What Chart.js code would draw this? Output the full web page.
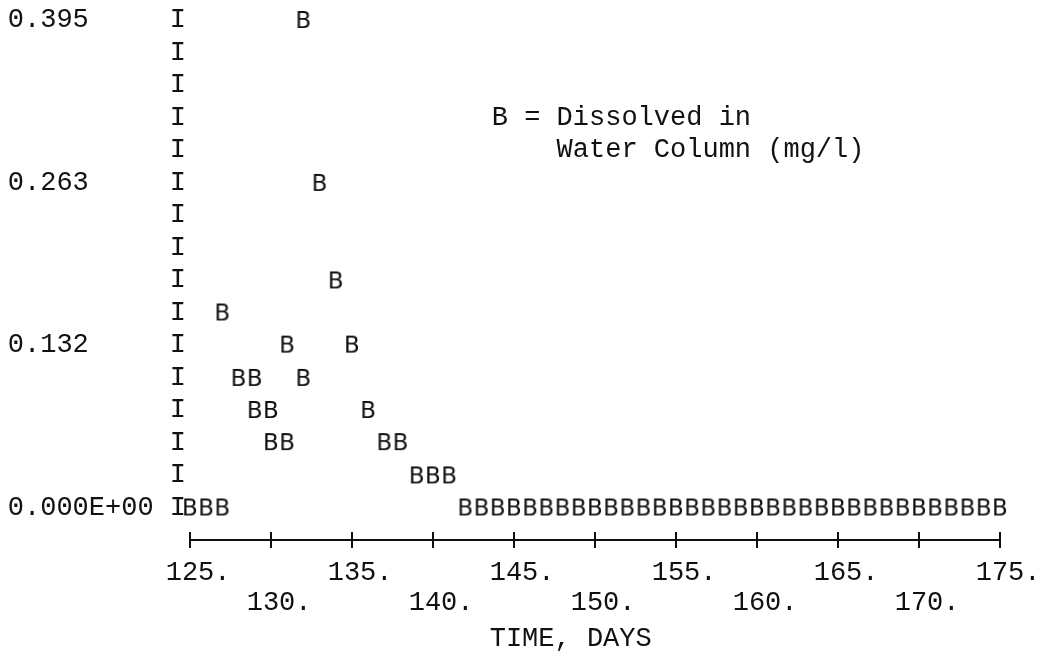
<!DOCTYPE html>
<html><head><meta charset="utf-8">
<script src="https://cdn.jsdelivr.net/npm/chart.js@4.4.1/dist/chart.umd.min.js"></script>
<style>html,body{margin:0;padding:0;background:#fff}canvas{display:block}</style>
</head><body>
<canvas id="c" width="1039" height="653"></canvas>
<script>
// ---- data ----
const days = [125,126,127,127,128,129,129,130,130,131,131,132,132,133,134,135,136,137,138,139,140,141,
  142,143,144,145,146,147,148,149,150,151,152,153,154,155,156,157,158,159,160,161,162,163,164,165,166,167,168,169,170,171,172,173,174,175];
const dissolved = [0,0,0,0.158,0.105,0.105,0.079,0.079,0.053,0.053,0.132,0.105,0.395,0.263,0.184,0.132,0.079,0.053,0.053,0.026,0.026,0.026,
  0,0,0,0,0,0,0,0,0,0,0,0,0,0,0,0,0,0,0,0,0,0,0,0,0,0,0,0,0,0,0,0,0,0];
const xTickValues = [125,130,135,140,145,150,155,160,165,170,175];
const xTickLabels = ['125.','130.','135.','140.','145.','150.','155.','160.','165.','170.','175.'];
const yLabelRows = [0,5,10,15];
const yLabelTexts = ['0.000E+00','0.132','0.263','0.395'];
const yMax = 0.395;
const rowCount = 15;
const xTitle = 'TIME, DAYS';
const legendLines = ['B = Dissolved in','    Water Column (mg/l)'];
const legendDay = 144;
const legendRows = [12, 11];

// ---- styling ----
const rowStep = yMax / rowCount;
const monoFont = "'Liberation Mono', 'Courier New', monospace";
const markFont = "'DejaVu Sans', sans-serif";
const ink = '#111111';

function makeMark(ch){
  const c = document.createElement('canvas');
  c.width = 18; c.height = 26;
  const g = c.getContext('2d');
  g.fillStyle = ink;
  g.font = '23px ' + markFont;
  g.textAlign = 'center';
  g.textBaseline = 'alphabetic';
  g.fillText(ch, 9, 13 + 8.4);
  return c;
}
const bMark = makeMark('B');

const rowIdx = [];
for (let k = -1; k <= rowCount; k++) rowIdx.push(k);

function yRowLabel(k){
  if (k < 0) return '';
  const j = yLabelRows.indexOf(k);
  const txt = j >= 0 ? yLabelTexts[j] : '';
  return txt.padEnd(10, ' ') + 'I';
}

const overlay = {
  id: 'overlay',
  afterDraw(chart){
    const {ctx, chartArea} = chart;
    const xs = chart.scales.x, ys = chart.scales.y;
    ctx.save();
    ctx.strokeStyle = ink; ctx.lineWidth = 2;
    xTickValues.forEach(v => {
      const px = Math.round(xs.getPixelForValue(v));
      ctx.beginPath(); ctx.moveTo(px, chartArea.bottom - 8); ctx.lineTo(px, chartArea.bottom); ctx.stroke();
    });
    ctx.fillStyle = ink;
    ctx.font = '27px ' + monoFont;
    ctx.textAlign = 'left';
    ctx.textBaseline = 'middle';
    const x0 = xs.getPixelForValue(legendDay) - 6;
    legendLines.forEach((t, i) => {
      ctx.fillText(t, x0, ys.getPixelForValue(legendRows[i] * rowStep));
    });
    ctx.restore();
  }
};

new Chart(document.getElementById('c').getContext('2d'), {
  type: 'scatter',
  data: {
    datasets: [{
      label: 'B = Dissolved in Water Column (mg/l)',
      data: days.map((d, i) => ({x: d, y: dissolved[i]})),
      pointStyle: bMark,
      pointRadius: 9,
      clip: false,
      showLine: false
    }]
  },
  options: {
    responsive: false,
    animation: false,
    layout: {padding: {left: 0, right: 39, top: 20, bottom: 3}},
    plugins: {legend: {display: false}, tooltip: {enabled: false}},
    scales: {
      x: {
        type: 'linear', min: 125, max: 175,
        afterBuildTicks: s => { s.ticks = xTickValues.map(v => ({value: v})); },
        afterFit: s => { s.height = 110; s.paddingLeft = 0; s.paddingRight = 0; },
        ticks: {
          autoSkip: false, maxRotation: 0, minRotation: 0, padding: 10, color: ink,
          font: {family: monoFont, size: 27, lineHeight: '30px'},
          callback: (v, i) => i % 2 === 0 ? [' ' + xTickLabels[i], ''] : ['', ' ' + xTickLabels[i]]
        },
        grid: {drawOnChartArea: false, drawTicks: true, tickLength: 8, color: ink, lineWidth: 2},
        border: {display: true, color: ink, width: 2},
        title: {display: true, text: xTitle + '   ', color: ink, padding: 0,
                font: {family: monoFont, size: 27, lineHeight: '22px'}}
      },
      y: {
        type: 'linear', min: -rowStep, max: yMax,
        afterBuildTicks: s => { s.ticks = rowIdx.map(k => ({value: k * rowStep})); },
        afterFit: s => { s.width = 190; s.paddingTop = 0; s.paddingBottom = 0; },
        ticks: {
          autoSkip: false, padding: 4, color: ink,
          font: {family: monoFont, size: 27},
          callback: (v, i) => yRowLabel(i - 1)
        },
        grid: {display: false, drawTicks: false},
        border: {display: false}
      }
    }
  },
  plugins: [overlay]
});
</script>
</body></html>
